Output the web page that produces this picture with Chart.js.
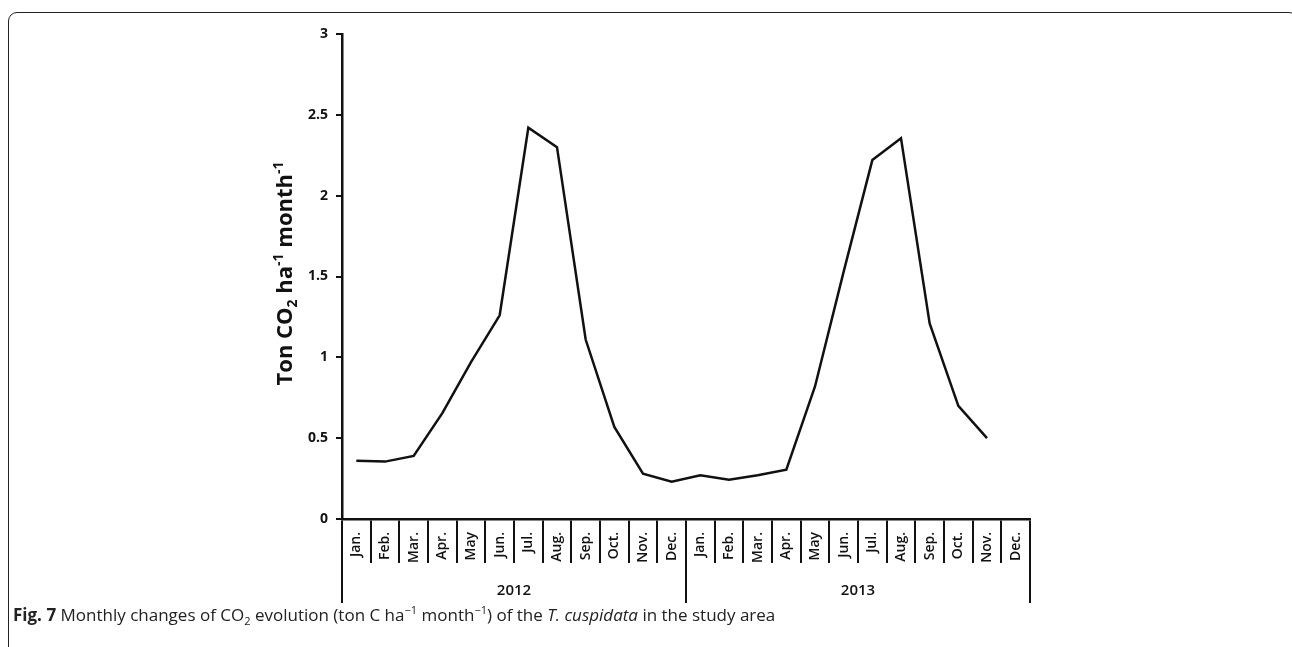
<!DOCTYPE html>
<html>
<head>
<meta charset="utf-8">
<script src="https://cdn.jsdelivr.net/npm/chart.js@4.4.1/dist/chart.umd.min.js"></script>
<style>
  html, body { margin: 0; padding: 0; background: #fff; }
  body { width: 1292px; height: 647px; position: relative; overflow: hidden; }
  .card { position: absolute; left: 8px; top: 12px; width: 1290px; height: 650px;
          border: 1.5px solid #222; border-radius: 9px; box-sizing: border-box; }
  #wrap { position: absolute; left: 0; top: 0; width: 1292px; height: 647px; }
  .caption { position: absolute; left: 13px; top: 602px; font-family: "Open Sans", sans-serif;
             font-size: 17px; color: #222; white-space: nowrap; letter-spacing: 0; }
  .caption b { font-weight: 700; }
  .caption sub, .caption sup { font-size: 11px; }
</style>
</head>
<body>
<div class="card"></div>
<div id="wrap"><canvas id="c" width="1292" height="647"></canvas></div>
<div class="caption"><b>Fig. 7</b> Monthly changes of CO<sub>2</sub> evolution (ton C ha<sup>&minus;1</sup> month<sup>&minus;1</sup>) of the <i>T. cuspidata</i> in the study area</div>
<script>
// ── data ──
const months = ['Jan.','Feb.','Mar.','Apr.','May','Jun.','Jul.','Aug.','Sep.','Oct.','Nov.','Dec.',
                'Jan.','Feb.','Mar.','Apr.','May','Jun.','Jul.','Aug.','Sep.','Oct.','Nov.','Dec.'];
const years = ['2012', '2013'];
const co2 = [0.36, 0.355, 0.39, 0.655, 0.97, 1.26, 2.42, 2.30, 1.11, 0.57, 0.28, 0.23,
             0.27, 0.243, 0.27, 0.305, 0.82, 1.53, 2.22, 2.355, 1.21, 0.70, 0.50, null];
const yTicks = [0, 0.5, 1, 1.5, 2, 2.5, 3];

// rotated y title with sub/superscripts
const yTitle = {
  id: 'yTitle',
  afterDraw(chart) {
    const { ctx, chartArea } = chart;
    const parts = [
      { t: 'Ton CO', s: 22, dy: 0 },
      { t: '2', s: 14, dy: 5 },
      { t: ' ha', s: 22, dy: 0 },
      { t: '-1', s: 14, dy: -9 },
      { t: ' month', s: 22, dy: 0 },
      { t: '-1', s: 14, dy: -9 }
    ];
    ctx.save();
    ctx.fillStyle = '#111';
    ctx.textBaseline = 'alphabetic';
    let total = 0;
    parts.forEach(p => { ctx.font = `bold ${p.s}px "Open Sans"`; p.w = ctx.measureText(p.t).width; total += p.w; });
    const cy = (chartArea.top + chartArea.bottom) / 2;
    ctx.translate(292, cy - 3);
    ctx.rotate(-Math.PI / 2);
    let x = -total / 2;
    parts.forEach(p => {
      ctx.font = `bold ${p.s}px "Open Sans"`;
      ctx.fillText(p.t, x, p.dy);
      x += p.w;
    });
    ctx.restore();
  }
};

new Chart(document.getElementById('c'), {
  type: 'line',
  data: {
    labels: months,
    datasets: [{
      data: co2,
      borderColor: '#111',
      borderWidth: 2.5,
      pointRadius: 0,
      tension: 0,
      spanGaps: false
    }]
  },
  options: {
    responsive: false,
    animation: false,
    events: [],
    layout: { padding: { top: 34, right: 262, bottom: 44, left: 0 } },
    plugins: { legend: { display: false }, tooltip: { enabled: false } },
    scales: {
      x: {
        offset: true,
        border: { color: '#111', width: 2.5 },
        grid: { offset: true, drawOnChartArea: false, color: '#111', lineWidth: 2, tickLength: 44 },
        ticks: { autoSkip: false, maxRotation: 90, minRotation: 90, padding: -31, color: '#111',
                 font: { family: 'Open Sans', size: 14, weight: '600' } },
        afterFit: s => { s.height = 44; }
      },
      years: {
        type: 'category',
        labels: years,
        position: 'bottom',
        offset: true,
        border: { display: false },
        grid: { offset: true, drawOnChartArea: false, color: '#111', lineWidth: 2, tickLength: 40 },
        ticks: { padding: -21, color: '#111', font: { family: 'Open Sans', size: 15, weight: '600' } },
        afterFit: s => { s.height = 40; }
      },
      y: {
        min: 0, max: 3,
        border: { color: '#111', width: 2.5 },
        grid: { drawOnChartArea: false, color: '#111', lineWidth: 2, tickLength: 6 },
        afterBuildTicks: s => { s.ticks = yTicks.map(v => ({ value: v })); },
        ticks: { padding: 8, color: '#111', font: { family: 'Open Sans', size: 14, weight: 'bold' },
                 callback: v => String(v) },
        afterFit: s => { s.width = 342; }
      }
    }
  },
  plugins: [yTitle]
});
</script>
</body>
</html>
